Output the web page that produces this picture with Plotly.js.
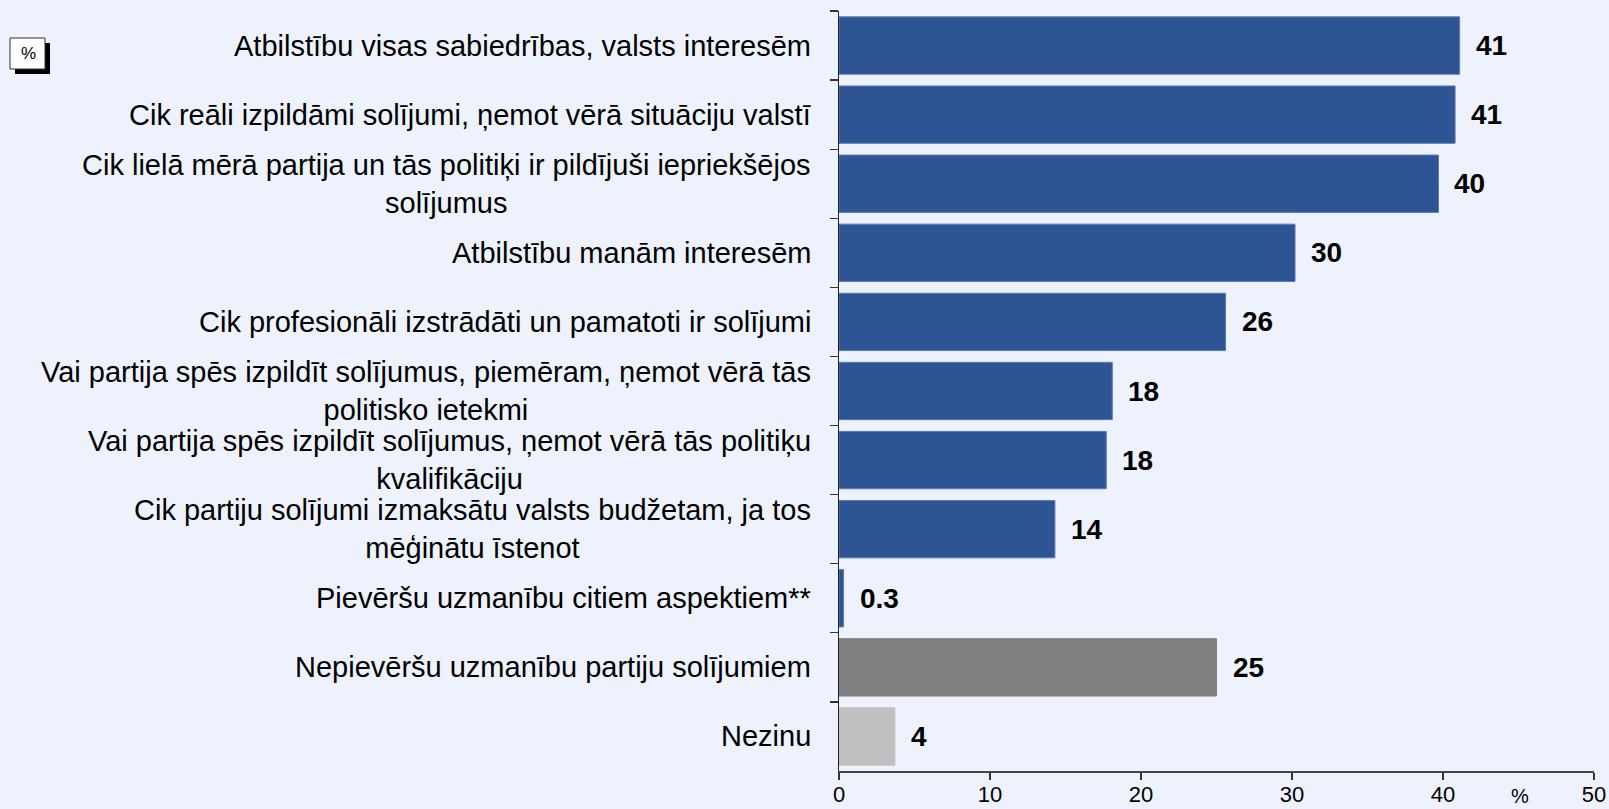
<!DOCTYPE html>
<html>
<head>
<meta charset="utf-8">
<script src="https://cdn.plot.ly/plotly-3.0.1.min.js"></script>
<style>
  html, body { margin: 0; padding: 0; background: #EEF2FD; }
  #chart { width: 1609px; height: 809px; }
</style>
</head>
<body>
<div id="chart"></div>
<script>
// Categories (top to bottom)
const categories = [
  "Atbilstību visas sabiedrības, valsts interesēm",
  "Cik reāli izpildāmi solījumi, ņemot vērā situāciju valstī",
  "Cik lielā mērā partija un tās politiķi ir pildījuši iepriekšējos<br>solījumus",
  "Atbilstību manām interesēm",
  "Cik profesionāli izstrādāti un pamatoti ir solījumi",
  "Vai partija spēs izpildīt solījumus, piemēram, ņemot vērā tās<br>politisko ietekmi",
  "Vai partija spēs izpildīt solījumus, ņemot vērā tās politiķu<br>kvalifikāciju",
  "Cik partiju solījumi izmaksātu valsts budžetam, ja tos<br>mēģinātu īstenot",
  "Pievēršu uzmanību citiem aspektiem**",
  "Nepievēršu uzmanību partiju solījumiem",
  "Nezinu"
];
// Values (%)
const values = [41.1, 40.8, 39.7, 30.2, 25.6, 18.1, 17.7, 14.3, 0.3, 25.0, 3.7];
// Value labels as printed
const valueLabels = ["41", "41", "40", "30", "26", "18", "18", "14", "0.3", "25", "4"];
// Group of each answer (for colouring)
const groups = ["a","a","a","a","a","a","a","a","a","none","dk"];
// Axis ticks
const xTicks = [0, 10, 20, 30, 40, 50];
const xUnitLabel = "%";
const cornerLabel = "%";

const groupColors = { a: "#2E5494", none: "#808080", dk: "#C0C0C0" };
const groupLines = { a: "#5A7BB8", none: "#808080", dk: "#C0C0C0" };
const FONT = "'Liberation Sans', Arial, sans-serif";
const keys = categories.map((c, i) => "c" + i);

const trace = {
  type: "bar",
  orientation: "h",
  x: values,
  y: keys,
  width: 0.83,
  marker: {
    color: groups.map(g => groupColors[g]),
    line: { color: groups.map(g => groupLines[g]), width: 1 }
  },
  hoverinfo: "skip"
};

const annotations = [];
categories.forEach((c, i) => {
  annotations.push({
    text: c, xref: "x", yref: "y", x: 0, y: keys[i],
    xanchor: "right", yanchor: "middle", xshift: -26, align: "center",
    showarrow: false, font: { family: FONT, size: 29, color: "#000" }
  });
  annotations.push({
    text: "<b>" + valueLabels[i] + "</b>", xref: "x", yref: "y", x: values[i], y: keys[i],
    xanchor: "left", yanchor: "middle", xshift: 14,
    showarrow: false, font: { family: FONT, size: 28, color: "#000" }
  });
});
annotations.push({
  text: xUnitLabel, xref: "x", yref: "paper", x: 45.1, y: 0,
  xanchor: "center", yanchor: "middle", yshift: -25, showarrow: false,
  font: { family: FONT, size: 20, color: "#000" }
});
annotations.push({
  text: cornerLabel, xref: "paper", yref: "paper", x: 0, y: 1,
  xanchor: "center", yanchor: "middle", xshift: -811, yshift: -42,
  showarrow: false, font: { family: FONT, size: 17, color: "#000" }
});

const shapes = [
  { type: "rect", xref: "paper", yref: "paper", xsizemode: "pixel", ysizemode: "pixel",
    xanchor: 0, yanchor: 1, x0: -824, x1: -789, y0: -63, y1: -32,
    fillcolor: "#000", line: { width: 0 }, layer: "above" },
  { type: "rect", xref: "paper", yref: "paper", xsizemode: "pixel", ysizemode: "pixel",
    xanchor: 0, yanchor: 1, x0: -829, x1: -794, y0: -58, y1: -27,
    fillcolor: "#FFFFFF", line: { color: "#333", width: 1 }, layer: "above" }
];

const layout = {
  width: 1609, height: 809,
  margin: { l: 839, r: 15, t: 11, b: 38 },
  paper_bgcolor: "#EEF2FD",
  plot_bgcolor: "#EEF2FD",
  showlegend: false,
  bargap: 0.17,
  font: { family: FONT, color: "#000" },
  xaxis: {
    range: [0, 50],
    tickvals: xTicks,
    ticktext: xTicks.map(String),
    ticks: "outside", ticklen: 7, tickwidth: 1.2, tickcolor: "#333",
    ticklabelstandoff: -4,
    showline: true, linecolor: "#444", linewidth: 1.5,
    showgrid: false, zeroline: false,
    tickfont: { family: FONT, size: 22, color: "#000" }
  },
  yaxis: {
    type: "category",
    categoryorder: "array", categoryarray: keys,
    range: [10.5, -0.5],
    showticklabels: false,
    tickson: "boundaries",
    ticks: "outside", ticklen: 8, tickwidth: 1.2, tickcolor: "#333",
    showline: true, linecolor: "#222", linewidth: 1.5,
    showgrid: false, zeroline: false
  },
  annotations: annotations,
  shapes: shapes
};

Plotly.newPlot("chart", [trace], layout, { staticPlot: true, displayModeBar: false });
</script>
</body>
</html>
